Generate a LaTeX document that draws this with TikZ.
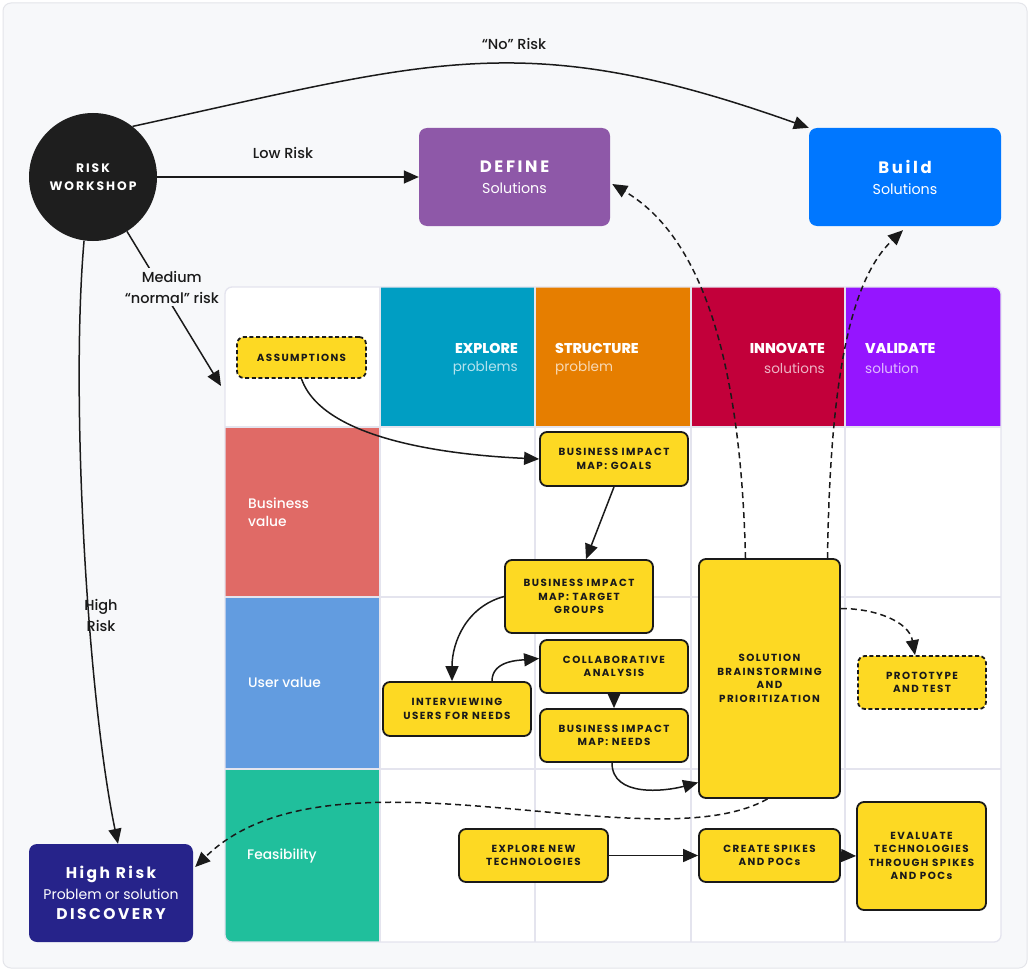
\documentclass[tikz,border=0pt]{standalone}
\usepackage{fontspec}
\setmainfont{Poppins}
\newfontfamily\medfont{Poppins Medium}
\newfontfamily\capsfont[LetterSpace=14]{Poppins}
\newfontfamily\titlefont[LetterSpace=16]{Poppins}
\usetikzlibrary{arrows.meta,calc}
\definecolor{bgc}{HTML}{F7F8FA}
\definecolor{bgline}{HTML}{E4E5EA}
\definecolor{gridc}{HTML}{E4E4EE}
\definecolor{definec}{HTML}{8E58A8}
\definecolor{buildc}{HTML}{0077FF}
\definecolor{hrc}{HTML}{26238A}
\definecolor{rwc}{HTML}{1E1E1E}
\definecolor{explorec}{HTML}{009EC3}
\definecolor{structc}{HTML}{E67E00}
\definecolor{innovc}{HTML}{C2003A}
\definecolor{validc}{HTML}{9515FF}
\definecolor{busc}{HTML}{E06A66}
\definecolor{userc}{HTML}{629CE0}
\definecolor{feasc}{HTML}{20BF9C}
\definecolor{yel}{HTML}{FDD923}
\definecolor{ink}{HTML}{1A1A1A}
\tikzset{
  ybox/.style={draw=ink, line width=1.8pt, fill=yel, rounded corners=7pt, align=center,
    text=ink, inner sep=2pt, font=\capsfont\bfseries\fontsize{10.3}{13.5}\selectfont},
  dbox/.style={ybox, dash pattern=on 4pt off 2.6pt},
  bigbox/.style={rounded corners=8pt, text=white, align=center, inner sep=2pt},
  conn/.style={line width=1.5pt, draw=ink, -{Triangle[length=15pt,width=13pt]}},
  dconn/.style={conn, dash pattern=on 6pt off 4pt},
  lbl/.style={text=ink, font=\medfont\fontsize{14.5}{21}\selectfont, align=center, inner sep=1pt},
  headt/.style={text=white, font=\medfont\bfseries\fontsize{14.2}{16}\selectfont, inner sep=0pt},
  heads/.style={text=white, text opacity=0.7, font=\fontsize{13.6}{16}\selectfont, inner sep=0pt},
  rowt/.style={text=white, font=\medfont\fontsize{13.8}{18.5}\selectfont, align=left, inner sep=0pt}
}
\begin{document}
\begin{tikzpicture}[x=1pt,y=-1pt]
\useasboundingbox (0,0) rectangle (1030,971);
\fill[white] (0,0) rectangle (1030,971);
\draw[bgline, fill=bgc, line width=1pt, rounded corners=8pt] (3,3) rectangle (1027,968);

% grid
\begin{scope}
\clip[rounded corners=7pt] (225,287) rectangle (1001,942);
\fill[white] (225,287) rectangle (1001,942);
\fill[explorec] (380,287) rectangle (535,427);
\fill[structc] (535,287) rectangle (691,427);
\fill[innovc] (691,287) rectangle (845,427);
\fill[validc] (845,287) rectangle (1001,427);
\fill[busc] (225,427) rectangle (380,597);
\fill[userc] (225,597) rectangle (380,769);
\fill[feasc] (225,769) rectangle (380,942);
\end{scope}
\foreach \x in {380,535,691,845} \draw[gridc, line width=1.3pt] (\x,287) -- (\x,942);
\foreach \y in {427,597,769} \draw[gridc, line width=1.3pt] (225,\y) -- (1001,\y);
\draw[gridc, line width=1.3pt, rounded corners=7pt] (225,287) rectangle (1001,942);

% header texts
\node[headt, anchor=east] (hexp) at (518,348) {EXPLORE};
\node[heads, anchor=east] (hexps) at (518,368) {problems};
\node[headt, anchor=west] (hstr) at (555,348) {STRUCTURE};
\node[heads, anchor=west] (hstrs) at (555,368) {problem};
\node[headt, anchor=east] (hinn) at (825,348) {INNOVATE};
\node[heads, anchor=east] (hinns) at (825,368) {solutions};
\node[headt, anchor=west] (hval) at (865,348) {VALIDATE};
\node[heads, anchor=west] (hvals) at (865,368) {solution};
\node[rowt, anchor=west] (rbus) at (248,512) {Business\\value};
\node[rowt, anchor=west] (rusr) at (248,682) {User value};
\node[rowt, anchor=west] (rfea) at (247,856) {Feasibility};

% main nodes
\node[circle, fill=rwc, minimum size=128pt, text=white, align=center, inner sep=0pt,
  font=\titlefont\bfseries\fontsize{12.3}{18}\selectfont] (rw) at (93,177) {RISK\\WORKSHOP};
\node[bigbox, fill=definec, minimum width=191pt, minimum height=98pt, font=\fontsize{14}{21}\selectfont] (define) at (514.5,177)
  {{\titlefont\bfseries\fontsize{16.5}{21}\selectfont DEFINE}\\{\fontsize{14.3}{21}\selectfont Solutions}};
\node[bigbox, fill=buildc, minimum width=192pt, minimum height=98pt, font=\fontsize{14}{21}\selectfont] (build) at (905,177)
  {{\titlefont\bfseries\fontsize{16.5}{21}\selectfont Build}\\{\fontsize{14.3}{21}\selectfont Solutions}};
\node[bigbox, fill=hrc, minimum width=164pt, minimum height=98pt, font=\fontsize{14}{20.5}\selectfont] (hr) at (111,893)
  {{\titlefont\bfseries\fontsize{15.5}{20}\selectfont High Risk}\\{\fontsize{14}{20}\selectfont Problem or solution}\\{\titlefont\bfseries\fontsize{15.5}{20}\selectfont DISCOVERY}};

% yellow boxes
\node[dbox, minimum width=129pt, minimum height=41pt] (assump) at (301.5,357.5) {ASSUMPTIONS};
\node[ybox, minimum width=148pt, minimum height=54pt] (goals) at (614,459) {BUSINESS IMPACT\\MAP: GOALS};
\node[ybox, minimum width=148pt, minimum height=73pt] (target) at (579,596.5) {BUSINESS IMPACT\\MAP: TARGET\\GROUPS};
\node[ybox, minimum width=148pt, minimum height=53pt] (collab) at (614,666.5) {COLLABORATIVE\\ANALYSIS};
\node[ybox, minimum width=148pt, minimum height=54pt] (interview) at (457,709) {INTERVIEWING\\USERS FOR NEEDS};
\node[ybox, minimum width=148pt, minimum height=53pt] (needs) at (614,735.5) {BUSINESS IMPACT\\MAP: NEEDS};
\node[ybox, minimum width=141pt, minimum height=239pt] (solution) at (769.5,678.5) {SOLUTION\\BRAINSTORMING\\AND\\PRIORITIZATION};
\node[dbox, minimum width=128pt, minimum height=53pt] (proto) at (922,682.5) {PROTOTYPE\\AND TEST};
\node[ybox, minimum width=149pt, minimum height=53pt] (newtech) at (533.5,855.5) {EXPLORE NEW\\TECHNOLOGIES};
\node[ybox, minimum width=141pt, minimum height=53pt] (spikes) at (769.5,855.5) {CREATE SPIKES\\AND POCs};
\node[ybox, minimum width=129pt, minimum height=108pt] (evaluate) at (921.5,856) {EVALUATE\\TECHNOLOGIES\\THROUGH SPIKES\\AND POCs};

% labels
\node[lbl] (lno) at (514,44) {“No” Risk};
\node[lbl] (llow) at (283,153) {Low Risk};
\node[lbl] (lhigh) at (101,615) {High\\Risk};
\coordinate (gridin) at (221,386);

% connectors from risk workshop
\draw[conn] (rw.52) .. controls (432,61) and (523,26) .. (build.north west);
\draw[conn] (rw.east) -- (define.west);
\draw[conn] (rw.-58) -- node[pos=0.36, xshift=11pt, fill=bgc, lbl, inner sep=3pt] (lmed) {Medium\\“normal” risk} (gridin);
\draw[conn] (rw.262) .. controls (70,400) and (88,700) .. (hr.north west -| 118,0);

% inner flow
\draw[conn] (assump.south) .. controls (323,440) and (450,455) .. (goals.west);
\draw[conn] (goals.south) -- ($(target.north)+(7,0)$);
\draw[conn] (target.west) to[out=195,in=90] ($(interview.north)+(-5,0)$);
\draw[conn] ($(interview.north)+(35,0)$) to[out=90,in=185] ($(collab.west)+(0,-8)$);
\draw[conn] (collab.south) -- (needs.north);
\draw[conn] ($(needs.south)+(-2,0)$) to[out=-90,in=195] ($(solution.west)+(0,104)$);
\draw[conn] (newtech.east) -- (spikes.west);
\draw[conn] (spikes.east) -- (evaluate.west);

% dashed
\draw[dconn] ($(solution.north)+(-24,0)$) .. controls (740,330) and (690,230) .. ($(define.east)+(2,7)$);
\draw[dconn] ($(solution.north)+(58,0)$) .. controls (830,380) and (850,280) .. ($(build.south)+(-2,4)$);
\draw[dconn] ($(solution.east)+(0,-70)$) to[out=0,in=100] ($(proto.north)+(-7,0)$);
\draw[dconn] ($(solution.south)+(-2,0)$) .. controls (650,865) and (330,735) .. ($(hr.east)+(2,-26)$);
\end{tikzpicture}
\end{document}
